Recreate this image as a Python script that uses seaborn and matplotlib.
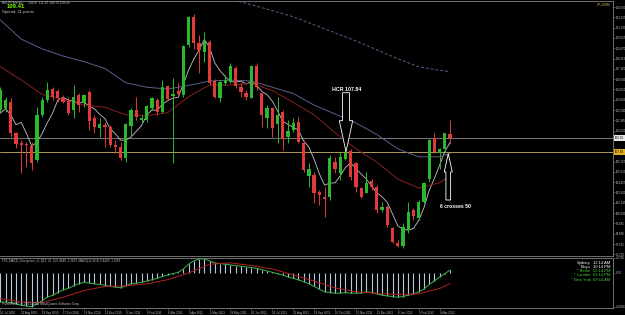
import numpy as np
import pandas as pd
import matplotlib
matplotlib.use("Agg")
import matplotlib.pyplot as plt
import seaborn as sns
from matplotlib.patches import FancyArrow

# EURJPY weekly candles, 25 Jul 2010 .. 18 Mar 2012
opens = [112.55, 112.73, 113.48, 109.93, 108.81, 108.78, 108.51, 106.94, 111.99, 113.67,
         114.87, 114.72, 113.86, 113.59, 112.55, 114.23, 113.30, 114.60, 111.61, 110.49,
         110.83, 110.68, 108.62, 108.44, 107.13, 110.75, 112.55, 111.43, 111.43, 112.73,
         113.67, 112.36, 115.24, 114.15, 114.72, 114.23, 119.83, 122.94, 120.10, 119.09,
         120.21, 115.84, 113.86, 115.54, 115.72, 117.22, 115.09, 114.42, 113.93, 117.48,
         114.42, 111.61, 112.73, 110.98, 112.36, 109.56, 110.31, 111.24, 108.89, 105.15,
         105.26, 103.32, 102.83, 102.76, 106.76, 105.45, 107.02, 107.99, 106.64, 103.77,
         103.28, 104.63, 103.95, 101.34, 101.71, 99.36, 97.60, 97.30, 99.09, 101.34,
         100.40, 102.27, 104.77, 109.37, 107.77, 108.14, 109.87]
highs = [115.16, 114.04, 113.86, 110.12, 109.18, 109.00, 109.00, 112.92, 114.04, 115.72,
         115.16, 114.87, 114.23, 114.04, 115.35, 114.42, 114.30, 114.79, 111.99, 111.61,
         111.24, 110.87, 109.18, 109.00, 111.05, 112.73, 114.04, 111.99, 113.11, 114.04,
         113.86, 115.91, 115.35, 116.10, 115.54, 119.83, 123.05, 123.33, 120.96, 121.33,
         120.40, 115.99, 115.91, 116.47, 117.78, 117.48, 115.54, 114.79, 117.59, 117.78,
         114.60, 113.11, 112.92, 114.04, 112.55, 111.43, 111.61, 111.80, 109.18, 106.57,
         105.63, 103.58, 103.95, 107.50, 107.32, 107.88, 111.43, 108.14, 106.76, 103.95,
         105.63, 104.77, 104.14, 102.27, 101.90, 99.47, 97.97, 99.84, 102.27, 101.52,
         102.46, 104.51, 109.26, 109.93, 108.25, 110.01, 111.43]
lows = [112.17, 112.36, 109.56, 108.25, 105.45, 106.19, 105.82, 106.76, 111.80, 113.48,
        113.67, 113.48, 113.30, 111.99, 111.61, 112.36, 112.92, 110.31, 109.93, 109.56,
        108.44, 108.44, 107.69, 106.94, 106.76, 109.56, 111.43, 111.05, 111.24, 112.55,
        111.99, 112.17, 113.67, 106.57, 114.23, 114.04, 119.65, 119.35, 116.66, 117.97,
        115.35, 113.86, 113.48, 115.35, 115.54, 114.98, 114.04, 113.67, 113.86, 114.79,
        110.68, 110.49, 109.56, 108.81, 108.06, 108.81, 110.12, 108.81, 105.63, 103.95,
        102.08, 101.90, 100.59, 102.46, 105.45, 104.70, 106.94, 104.70, 103.39, 102.65,
        103.21, 103.58, 100.96, 101.15, 99.47, 97.60, 97.20, 97.03, 98.72, 100.22,
        100.22, 102.08, 104.51, 107.69, 105.90, 107.88, 108.79]
closes = [114.79, 113.67, 109.93, 108.74, 108.66, 108.66, 106.57, 111.99, 113.67, 114.79,
          114.04, 113.86, 113.48, 112.17, 114.04, 113.11, 114.23, 111.35, 110.68, 110.98,
          110.68, 108.62, 108.44, 107.13, 110.94, 112.55, 111.73, 111.65, 113.00, 113.86,
          112.36, 115.09, 113.78, 114.30, 114.34, 119.72, 122.94, 120.02, 119.27, 120.28,
          115.54, 114.04, 115.72, 115.91, 117.48, 115.24, 114.60, 114.04, 117.48, 115.09,
          111.99, 112.73, 110.49, 111.99, 109.26, 110.23, 111.05, 109.00, 105.82, 105.90,
          103.28, 103.02, 102.53, 107.13, 105.90, 107.24, 107.77, 105.07, 103.95, 102.83,
          104.33, 103.88, 101.34, 101.71, 99.66, 97.79, 97.30, 99.47, 101.15, 100.66,
          102.27, 104.40, 109.18, 107.88, 108.14, 109.93, 109.41]

# fast average: first bars, rest is the 5-bar mean of closes
fast_head = [112.2, 112.7, 112.0, 110.9]

# slower moving averages, read every 4 bars
ma_idx = list(range(0, 85, 4)) + [86]
ma_red = [117.41, 115.91, 114.30, 113.74, 113.11, 112.85, 112.02, 111.91, 112.25, 114.04,
          115.35, 115.35, 115.54, 114.72, 113.4, 112.0, 110.0, 108.2, 106.7, 104.8,
          103.8, 104.4, 105.2]
ma_blue = [122.64, 120.5, 119.4, 118.6, 117.97, 117.2, 115.6, 115.1, 114.9, 115.3,
           115.8, 115.9, 115.8, 115.1, 114.4, 113.1, 112.1, 111.1, 109.8, 108.2,
           107.3, 107.3, 107.7]
dash_idx = list(range(40, 85, 4)) + [86]
ma_dash = [125.6, 124.95, 124.35, 123.7, 123.0, 122.1, 121.2, 120.3, 119.3, 118.3,
           117.4, 117.0, 116.85]

# MACD window
macd = [-4.3, -4.3, -4.4, -4.6, -4.8, -4.9, -5.0, -4.6, -4.1, -3.6,
        -3.3, -2.9, -2.5, -2.3, -1.9, -1.6, -1.4, -1.5, -1.6, -1.7,
        -1.8, -2.0, -2.1, -2.2, -1.9, -1.6, -1.5, -1.4, -1.2, -1.0,
        -0.8, -0.5, -0.3, -0.1, 0.1, 0.6, 1.3, 1.8, 2.1, 2.1,
        1.8, 1.5, 1.4, 1.3, 1.2, 1.1, 1.0, 0.9, 0.8, 0.7,
        0.5, 0.3, 0.1, -0.1, -0.3, -0.6, -0.8, -1.0, -1.3, -1.6,
        -2.0, -2.4, -2.8, -2.9, -3.0, -3.0, -2.9, -3.0, -3.0, -3.0,
        -2.8, -2.9, -3.1, -3.3, -3.4, -3.5, -3.6, -3.5, -3.3, -3.1,
        -2.8, -2.4, -1.7, -1.2, -0.6, -0.1, 0.44]
signal = [-3.8, -4.3, -4.4, -3.6, -2.6, -2.0, -1.9, -1.6, -1.0, 0.0,
          1.3, 1.5, 1.1, 0.6, -0.3, -1.2, -2.2, -2.8, -3.0, -3.2,
          -3.1, -2.3, -1.6]

date_labels = ["25 Jul 2010", "22 Aug 2010", "19 Sep 2010", "17 Oct 2010", "14 Nov 2010",
               "12 Dec 2010", "9 Jan 2011", "6 Feb 2011", "6 Mar 2011", "3 Apr 2011",
               "1 May 2011", "29 May 2011", "26 Jun 2011", "24 Jul 2011", "21 Aug 2011",
               "18 Sep 2011", "16 Oct 2011", "13 Nov 2011", "11 Dec 2011", "8 Jan 2012",
               "5 Feb 2012", "4 Mar 2012"]
price_ticks = [96.370, 97.525, 98.680, 99.835, 100.990, 102.145, 103.300, 104.455,
               105.610, 106.765, 110.230, 111.385, 112.540, 113.695, 114.850, 116.005,
               117.160, 118.315, 119.470, 120.625, 121.780, 122.935, 124.090]
macd_ticks = [2.279, 0.0, -4.9826]
macd_tick_labels = ["2.2790", "0.00", "-4.9826"]

bid = 109.41
hcr = 107.84

W, H = 625, 315
GREEN = "#2cb82c"
RED = "#e03a3a"
TXT = "#c0c0c0"

sns.set_style("dark", {"axes.facecolor": "black", "figure.facecolor": "black",
                       "axes.edgecolor": "#808080"})
plt.rcParams["font.family"] = ["Liberation Sans", "DejaVu Sans"]


def box(x0, y0, x1, y1):
    return [x0 / W, 1 - y1 / H, (x1 - x0) / W, (y1 - y0) / H]


def fx(x, y):
    return x / W, 1 - y / H


fig = plt.figure(figsize=(W / 100, H / 100), dpi=100)
ax = fig.add_axes(box(0, 1, 613, 256))
ax2 = fig.add_axes(box(0, 257.5, 613, 308))

df = pd.DataFrame({"open": opens, "high": highs, "low": lows, "close": closes})
df["k"] = np.arange(len(df))
col = np.where(df["close"] >= df["open"], GREEN, RED)

# grid-level horizontal lines first
ax.axhline(bid, color="#8a8a8a", lw=0.6, zorder=1)
ax.axhline(hcr, color="#c8b46e", lw=0.6, zorder=1)

# moving averages
fast = df["close"].rolling(5).mean()
fast.iloc[:4] = fast_head
sns.lineplot(x=df["k"], y=fast, ax=ax, color="#c4c4cc", lw=0.6, zorder=2)
sns.lineplot(x=ma_idx, y=ma_red, ax=ax, color="#8b1e1e", lw=0.7, zorder=2)
sns.lineplot(x=ma_idx, y=ma_blue, ax=ax, color="#5a5f8c", lw=0.7, zorder=2)
sns.lineplot(x=dash_idx, y=ma_dash, ax=ax, color="#5a5f8c", lw=0.7,
             linestyle=(0, (3, 2)), zorder=2)

# candles
ax.vlines(df["k"], df["low"], df["high"], colors=col, lw=0.7, zorder=3)
body = (df["close"] - df["open"]).abs().clip(lower=0.06)
ax.bar(df["k"], body, bottom=df[["open", "close"]].min(axis=1), width=0.62,
       color=col, linewidth=0, zorder=4)

ax.set_xlim(-0.06, 117.15)
ax.set_ylim(96.18, 124.77)
ax.grid(False)
ax.set_xlabel("")
ax.set_ylabel("")
ax.tick_params(axis="x", bottom=False, labelbottom=False)
ax.yaxis.tick_right()
ax.set_yticks(price_ticks)
ax.set_yticklabels([f"{v:.3f}" for v in price_ticks])
ax.tick_params(axis="y", right=True, length=1.2, width=0.4, color="#808080",
               labelsize=2.1, labelcolor=TXT, pad=0.8)
for s in ax.spines.values():
    s.set_color("#808080")
    s.set_linewidth(0.6)
ax.spines["left"].set_visible(False)

# price boxes on the right scale
ax.text(1.003, bid, f"{bid:.2f}", transform=ax.get_yaxis_transform(), ha="left",
        va="center", fontsize=2.2, color="black",
        bbox=dict(boxstyle="square,pad=0.25", fc="#e8e8e8", ec="none"))
ax.text(1.003, hcr, f"{hcr:.2f}", transform=ax.get_yaxis_transform(), ha="left",
        va="center", fontsize=2.2, color="black",
        bbox=dict(boxstyle="square,pad=0.25", fc="#e0b020", ec="none"))

# annotations
ax.add_patch(FancyArrow(66.1, 114.49, 0, 107.87 - 114.49, width=1.34, head_width=2.56,
                        head_length=3.48, length_includes_head=True, fc="black",
                        ec="white", lw=0.6, zorder=6))
ax.text(66.2, 114.82, "HCR 107.84", ha="center", va="center", fontsize=3.8,
        color="white", fontweight="bold", zorder=7)
ax.add_patch(FancyArrow(85.65, 102.46, 0, 107.66 - 102.46, width=0.9, head_width=1.53,
                        head_length=2.06, length_includes_head=True, fc="black",
                        ec="white", lw=0.6, zorder=6))
ax.text(87.0, 101.68, "6 crosses 50", ha="center", va="center", fontsize=3.7,
        color="white", fontweight="bold", zorder=7)

# MACD window
ax2.vlines(df["k"], 0, macd, colors="#b4c8e0", lw=0.8, zorder=2)
sns.lineplot(x=df["k"], y=macd, ax=ax2, color="#3cb44b", lw=0.7, zorder=3)
sns.lineplot(x=ma_idx, y=signal, ax=ax2, color="#b22222", lw=0.7, zorder=3)
ax2.set_xlim(-0.06, 117.15)
ax2.set_ylim(-5.2, 2.3)
ax2.grid(False)
ax2.set_xlabel("")
ax2.set_ylabel("")
ax2.yaxis.tick_right()
ax2.set_yticks(macd_ticks)
ax2.set_yticklabels(macd_tick_labels)
ax2.tick_params(axis="y", right=True, length=1.2, width=0.4, color="#808080",
                labelsize=2.1, labelcolor=TXT, pad=0.8)
ax2.set_xticks(range(0, 4 * len(date_labels), 4))
ax2.set_xticklabels(date_labels)
ax2.tick_params(axis="x", bottom=True, length=1.5, width=0.4, color="#808080",
                labelsize=2.1, labelcolor=TXT, pad=0.6)
for lbl in ax2.get_xticklabels():
    lbl.set_ha("left")
for s in ax2.spines.values():
    s.set_color("#808080")
    s.set_linewidth(0.6)
ax2.spines["left"].set_visible(False)

# header texts
fig.text(*fx(2, 0.6), "EURJPY,Weekly", fontsize=2.1, color=TXT, va="top")
fig.text(*fx(28, 0.6), "109.87 111.43 108.79 109.40", fontsize=2.3, color=TXT, va="top")
fig.text(*fx(7, 4.4), "109.41", fontsize=4.2, color="#7cfc00", fontweight="bold", va="top")
fig.text(*fx(2, 10.0), "Spread: 21 points", fontsize=3.0, color=TXT, va="top")
fig.text(*fx(610, 2.5), "GP+30HM", fontsize=2.1, color="#d8c850", va="top", ha="right")

fig.text(*fx(2, 259), "FX5_MACD_Divergence_v1.1(12, 26, 9) 0.4440 -1.2163  MACD(12,26,9) 0.4440 -1.2163",
         fontsize=2.2, color=TXT, va="top")
fig.text(*fx(2, 304), "Pamm MT4, \u00a9 2001-2011 MetaQuotes Software Corp.", fontsize=2.3,
         color=TXT, va="center")

clock_names = ["Sydney", "Tokyo", "* Berlin", "* London", "* New York"]
clock_times = ["12:14 AM", "10:14 PM", "02:14 PM", "01:14 PM", "09:14 AM"]
clock_cols = ["white", "white", "#3cc83c", "#3cc83c", "#3cc83c"]
for i, (n, t, c) in enumerate(zip(clock_names, clock_times, clock_cols)):
    yy = 262.7 + 4.25 * i
    fig.text(*fx(590.7, yy), n, fontsize=3.0, color=c, ha="right", va="center")
    fig.text(*fx(593.3, yy), t, fontsize=3.0, color=c, ha="left", va="center")

fig.savefig("out.png", dpi=100, facecolor="black")
